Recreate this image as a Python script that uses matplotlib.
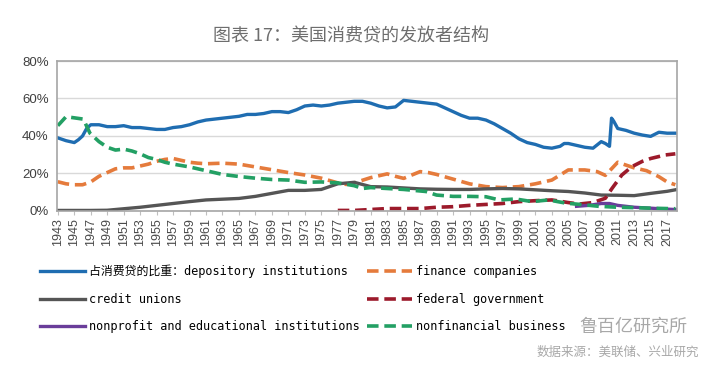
import matplotlib
matplotlib.use('Agg')
import matplotlib.pyplot as plt
from matplotlib.font_manager import FontProperties
from matplotlib.ticker import FuncFormatter

# ── DATA (share of consumer credit, %) ───────────────────────
dep_years = [1943, 1944, 1945, 1945.5, 1946, 1946.5, 1947, 1948, 1949, 1950,
             1951, 1952, 1953, 1954, 1955, 1956, 1957, 1958, 1959, 1960,
             1961, 1962, 1963, 1964, 1965, 1966, 1967, 1968, 1969, 1970,
             1971, 1972, 1973, 1974, 1975, 1976, 1977, 1978, 1979, 1980,
             1981, 1982, 1983, 1984, 1985, 1986, 1987, 1988, 1989, 1990,
             1991, 1992, 1993, 1994, 1995, 1996, 1997, 1998, 1999, 2000,
             2001, 2002, 2003, 2004, 2004.5, 2005, 2006, 2007, 2008, 2009,
             2009.5, 2010, 2010.25, 2010.5, 2011, 2012, 2013, 2014, 2015, 2016,
             2017, 2018]
dep_vals = [39, 37.5, 36.5, 38, 40, 44, 46, 46, 45, 45,
            45.5, 44.5, 44.5, 44, 43.5, 43.5, 44.5, 45, 46, 47.5,
            48.5, 49, 49.5, 50, 50.5, 51.5, 51.5, 52, 53, 53,
            52.5, 54, 56, 56.5, 56, 56.5, 57.5, 58, 58.5, 58.5,
            57.5, 56, 55, 55.5, 59, 58.5, 58, 57.5, 57, 55,
            53, 51, 49.5, 49.5, 48.5, 46.5, 44, 41.5, 38.5, 36.5,
            35.5, 34, 33.5, 34.5, 36, 36, 35, 34, 33.5, 37,
            36, 34.5, 49.5, 48, 44, 43, 41.5, 40.5, 39.8, 42,
            41.5, 41.5]

fin_years = [1943, 1944, 1945, 1946, 1947, 1948, 1949, 1950, 1951, 1952,
             1953, 1954, 1955, 1956, 1957, 1958, 1959, 1960, 1961, 1963,
             1965, 1967, 1969, 1971, 1973, 1975, 1977, 1978, 1979, 1981,
             1983, 1984, 1985, 1987, 1988, 1989, 1991, 1993, 1995, 1997,
             1999, 2001, 2003, 2005, 2007, 2008.5, 2009.5, 2011, 2012, 2013,
             2014.5, 2016, 2017, 2018]
fin_vals = [15.6, 14.5, 14, 14, 15.5, 18.5, 20.5, 22.5, 23, 23,
            24, 25, 26.5, 27.5, 28, 27, 26, 25.5, 25.2, 25.5,
            25, 23.5, 22, 20.5, 19.2, 17.5, 15, 14.2, 15, 17.8,
            19.8, 18.5, 17.4, 21, 20.5, 19.5, 17, 14.5, 13, 12.5,
            13, 14.5, 16.5, 21.9, 21.9, 21, 19, 26, 24.5, 23,
            21.5, 18.3, 15.5, 14]

cu_years = [1943, 1945, 1947, 1949, 1950, 1951, 1953, 1955, 1957, 1959,
            1961, 1963, 1965, 1967, 1969, 1971, 1973, 1975, 1977, 1979,
            1981, 1983, 1985, 1987, 1989, 1991, 1993, 1995, 1997, 1999,
            2001, 2003, 2005, 2007, 2009, 2011, 2013, 2015, 2017, 2018]
cu_vals = [0.3, 0.3, 0.3, 0.4, 0.8, 1.2, 2, 3, 4, 5,
           5.9, 6.3, 6.7, 7.8, 9.4, 11, 11, 11.5, 14.5, 15.3,
           13, 12.8, 12.3, 11.8, 11.6, 11.5, 11.5, 11.8, 12, 11.8,
           11.3, 10.8, 10.4, 9.6, 8.5, 8.4, 8.2, 9.4, 10.5, 11.3]

fed_years = [1977, 1979, 1981, 1983, 1985, 1987, 1989, 1991, 1993, 1995,
             1997, 1999, 2001, 2003, 2005, 2006.3, 2008, 2009.5, 2010.3, 2011.5,
             2012.7, 2014, 2015, 2016.8, 2018]
fed_vals = [0.3, 0.3, 0.8, 1.3, 1.3, 1.3, 2, 2.3, 3, 3.5,
            4, 5, 5.5, 5.9, 4.5, 3.7, 4.5, 6.8, 12, 19.2,
            23.6, 26.5, 28, 29.9, 30.5]

npo_years = [2006, 2007.5, 2009, 2010, 2011, 2013, 2015, 2017, 2018]
npo_vals = [2.5, 3, 4, 4, 3, 2, 1.5, 1, 0.8]

nfb_years = [1943, 1944, 1945.3, 1946.1, 1946.9, 1948, 1949, 1950, 1951, 1952,
             1953, 1954, 1955, 1956, 1957, 1959, 1961, 1963, 1965, 1967,
             1969, 1971, 1973, 1975, 1977, 1979, 1980, 1981, 1983, 1985,
             1987.7, 1989, 1991, 1993, 1995, 1996.6, 1998.6, 2000.6, 2002.6, 2004.7,
             2006.7, 2008.7, 2011, 2013, 2015, 2018]
nfb_vals = [45.5, 50.3, 49.5, 49, 41.5, 37, 34, 32.5, 33, 32,
            30.5, 28.5, 27.5, 26, 25, 23.5, 21.5, 19.5, 18.4, 17.5,
            16.8, 16.5, 15.3, 15.5, 15, 13.5, 12, 12.5, 12, 11.5,
            10.4, 8.5, 7.8, 7.8, 7.6, 5.9, 6.4, 5, 5.9, 4.2,
            3.4, 2.5, 2, 1.8, 1.5, 1.2]

labels = ["占消费贷的比重：depository institutions", "finance companies",
          "credit unions", "federal government",
          "nonprofit and educational institutions", "nonfinancial business"]
tick_years = list(range(1943, 2018, 2))
y_ticks = [0, 20, 40, 60, 80]

# ── STYLE ─────────────────────────────────────────────────────
C_DEP = '#1f6db1'
C_FIN = '#e57b3c'
C_CU = '#555555'
C_FED = '#9c1a2b'
C_NPO = '#6a3d9a'
C_NFB = '#23a064'
DASH = (3.2, 1.6)

fig = plt.figure(figsize=(7.02, 3.65), dpi=100)
ax = fig.add_axes([57 / 702, 1 - 211 / 365, 620 / 702, 150 / 365])

l_dep, = ax.plot(dep_years, dep_vals, color=C_DEP, lw=2.4)
l_fin, = ax.plot(fin_years, fin_vals, color=C_FIN, lw=2.6, dashes=DASH)
l_cu, = ax.plot(cu_years, cu_vals, color=C_CU, lw=2.4)
l_fed, = ax.plot(fed_years, fed_vals, color=C_FED, lw=2.6, dashes=DASH)
l_npo, = ax.plot(npo_years, npo_vals, color=C_NPO, lw=2.4)
l_nfb, = ax.plot(nfb_years, nfb_vals, color=C_NFB, lw=2.6, dashes=DASH)

ax.set_xlim(1942.9, 2018.2)
ax.set_ylim(0, 80)
ax.set_xticks(tick_years)
ax.set_xticklabels([str(y) for y in tick_years], rotation=90,
                   fontsize=9, family='Liberation Sans', color='#4a4a4a')
ax.set_yticks(y_ticks)
ax.yaxis.set_major_formatter(FuncFormatter(lambda v, p: f"{int(v)}%"))
for t in ax.get_yticklabels():
    t.set_fontsize(9.5)
    t.set_family('Liberation Sans')
    t.set_color('#404040')
ax.tick_params(axis='y', length=0, pad=6)
ax.tick_params(axis='x', length=3, color='#bfbfbf', pad=2)
ax.grid(axis='y', color='#d9d9d9', lw=1)
ax.set_axisbelow(True)
for s in ax.spines.values():
    s.set_color('#a6a6a6')
    s.set_linewidth(1.2)

# ── TITLE / LEGEND / SOURCE ───────────────────────────────────
fig.text(0.5, 1 - 36 / 365, "图表 17：美国消费贷的发放者结构", ha='center', va='center',
         fontsize=13, color='#6e6e6e', family=['Noto Sans CJK SC', 'DejaVu Sans'])

leg_font = FontProperties(family=['DejaVu Sans Mono', 'Noto Sans CJK SC'], size=8.6)
handles = [l_dep, l_cu, l_npo, l_fin, l_fed, l_nfb]
leg_labels = [labels[0], labels[2], labels[4], labels[1], labels[3], labels[5]]
fig.legend(handles, leg_labels, loc='upper left', bbox_to_anchor=(40 / 702, 1 - 265 / 365),
           ncol=2, frameon=False, prop=leg_font, borderpad=0, borderaxespad=0,
           handlelength=3.8, handletextpad=0.3, columnspacing=0.6, labelspacing=1.2)

fig.text(633 / 702, 1 - 327 / 365, "鲁百亿研究所", ha='center', va='center',
         fontsize=13, color='#a8a8a8', family=['Noto Sans CJK SC', 'DejaVu Sans'])
fig.text(699 / 702, 1 - 352 / 365, "数据来源：美联储、兴业研究", ha='right', va='center',
         fontsize=9, color='#a8a8a8', family=['Noto Sans CJK SC', 'DejaVu Sans'])

fig.savefig('out.png', dpi=100)
